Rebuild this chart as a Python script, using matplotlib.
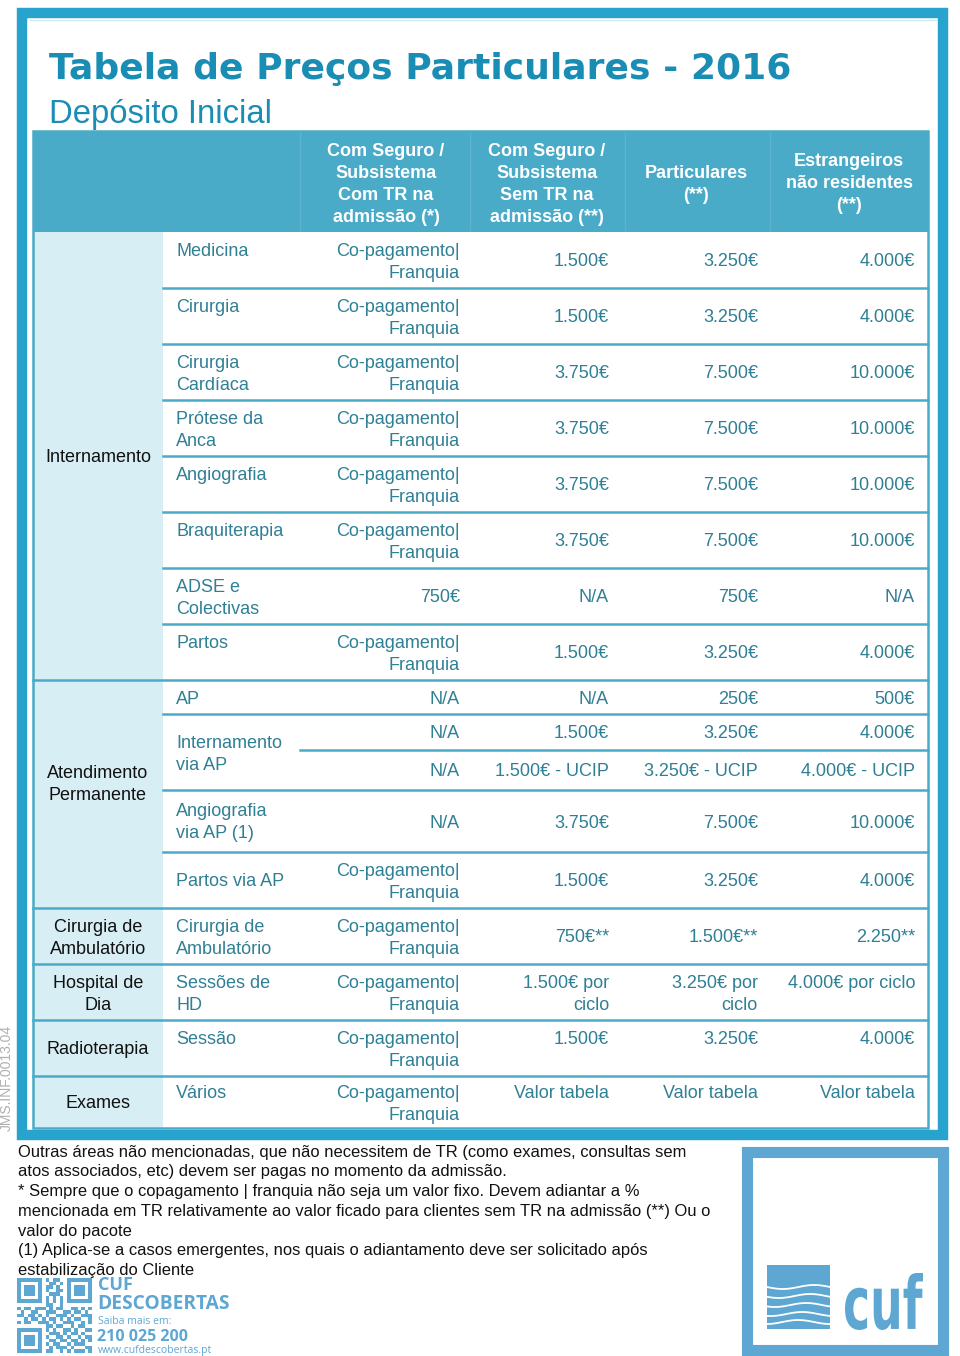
import numpy as np
import matplotlib
matplotlib.use("Agg")
import matplotlib.pyplot as plt
from matplotlib.patches import Rectangle, PathPatch
from matplotlib.textpath import TextPath
from matplotlib.font_manager import FontProperties
from matplotlib.transforms import Affine2D

# ---------------- data ----------------
title = "Tabela de Preços Particulares - 2016"
subtitle = "Depósito Inicial"

header_cols = [
    "Com Seguro /\nSubsistema\nCom TR na\nadmissão (*)",
    "Com Seguro /\nSubsistema\nSem TR na\nadmissão (**)",
    "Particulares\n(**)",
    "Estrangeiros\nnão residentes\n(**)",
]

groups = ["Internamento", "Atendimento\nPermanente", "Cirurgia de\nAmbulatório",
          "Hospital de\nDia", "Radioterapia", "Exames"]
group_sizes = [8, 4, 1, 1, 1, 1]

subcats = ["Medicina", "Cirurgia", "Cirurgia\nCardíaca", "Prótese da\nAnca", "Angiografia",
           "Braquiterapia", "ADSE e\nColectivas", "Partos", "AP", "Internamento\nvia AP",
           "Angiografia\nvia AP (1)", "Partos via AP", "Cirurgia de\nAmbulatório",
           "Sessões de\nHD", "Sessão", "Vários"]

CP = "Co-pagamento|\nFranquia"
col_com_tr = [CP, CP, CP, CP, CP, CP, "750€", CP, "N/A", ["N/A", "N/A"], "N/A",
              CP, CP, CP, CP, CP]
col_sem_tr = ["1.500€", "1.500€", "3.750€", "3.750€", "3.750€", "3.750€", "N/A", "1.500€",
              "N/A", ["1.500€", "1.500€ - UCIP"], "3.750€", "1.500€", "750€**",
              "1.500€ por\nciclo", "1.500€", "Valor tabela"]
col_particulares = ["3.250€", "3.250€", "7.500€", "7.500€", "7.500€", "7.500€", "750€",
                    "3.250€", "250€", ["3.250€", "3.250€ - UCIP"], "7.500€", "3.250€",
                    "1.500€**", "3.250€ por\nciclo", "3.250€", "Valor tabela"]
col_estrangeiros = ["4.000€", "4.000€", "10.000€", "10.000€", "10.000€", "10.000€", "N/A",
                    "4.000€", "500€", ["4.000€", "4.000€ - UCIP"], "10.000€", "4.000€",
                    "2.250**", "4.000€ por ciclo", "4.000€", "Valor tabela"]

footnotes = [
    "Outras áreas não mencionadas, que não necessitem de TR (como exames, consultas sem",
    "atos associados, etc) devem ser pagas no momento da admissão.",
    "* Sempre que o copagamento | franquia não seja um valor fixo. Devem adiantar a %",
    "mencionada em TR relativamente ao valor ficado para clientes sem TR na admissão (**) Ou o",
    "valor do pacote",
    "(1) Aplica-se a casos emergentes, nos quais o adiantamento deve ser solicitado após",
    "estabilização do Cliente",
]
doc_code = "JMS.INF.0013.04"

# ---------------- layout / style ----------------
FRAME = "#27a3cd"
HEAD = "#4aabc8"
LINE = "#4aabc8"
CATBG = "#d8eef5"
TEAL = "#2f7f95"
TITLE_C = "#1a8db4"
LOGO = "#5ea7d2"
FONT = "Liberation Sans"

row_edges = [232, 288, 344, 400, 456, 512, 568, 624, 680, 714, 790, 852, 908, 964,
             1020, 1076, 1128]
sub_top = [True] * 8 + [False] * 5 + [True] * 3
val_top = [False] * 13 + [True, True, True]
x_left, x_right = 33, 928
x_cat_end, x_sub_end = 163, 300
val_right = [460, 609, 758, 915]
head_cx = [386, 547, 696, 849]
LS = 22
DY = 2

fig = plt.figure(figsize=(9.6, 13.56), dpi=100)
ax = fig.add_axes([0, 0, 1, 1])
ax.set_xlim(0, 960)
ax.set_ylim(1356, 0)
ax.axis("off")


def put(x, yc, text, ha="left", top=False, color=TEAL, size=13, weight="normal",
        family=FONT):
    lines = text.split("\n")
    n = len(lines)
    if top and n == 1:
        y0 = yc - LS / 2
    else:
        y0 = yc - (n - 1) * LS / 2
    for i, ln in enumerate(lines):
        ax.text(x, y0 + i * LS + DY, ln, ha=ha, va="center", color=color, fontsize=size,
                fontweight=weight, family=family)


# outer frame
ax.add_patch(Rectangle((22, 13), 921, 1122, fill=False, ec=FRAME, lw=7.5))
ax.plot([30, 936], [20, 20], color="#cfe9f3", lw=1)

# title
ax.text(49, 69, title, ha="left", va="center", color=TITLE_C, fontsize=26,
        fontweight="bold", family="DejaVu Sans")
ax.text(49, 114, subtitle, ha="left", va="center", color=TITLE_C, fontsize=23.7,
        family=FONT)

# header band
ax.add_patch(Rectangle((x_left, 131), x_right - x_left, 101, color=HEAD, lw=0))
for xs in [300, 470, 625, 770]:
    ax.plot([xs, xs], [133, 230], color="#5db4cf", lw=1)
for cx, h in zip(head_cx, header_cols):
    put(cx, 182, h, ha="center", color="white", size=13, weight="bold")

# category background
ax.add_patch(Rectangle((x_left, row_edges[0]), x_cat_end - x_left,
                       row_edges[-1] - row_edges[0], color=CATBG, lw=0))

# horizontal lines
group_starts = np.cumsum([0] + group_sizes)
for i, y in enumerate(row_edges[1:-1], start=1):
    xs = x_left if i in group_starts else x_cat_end
    ax.plot([xs, x_right], [y, y], color=LINE, lw=1.8)
# split line in Internamento via AP
y_split = 750
ax.plot([x_sub_end, x_right], [y_split, y_split], color=LINE, lw=1.8)

# table border
ax.add_patch(Rectangle((x_left, 131), x_right - x_left, row_edges[-1] - 131,
                       fill=False, ec=LINE, lw=1.8))

# group labels
for g, (name, s0) in enumerate(zip(groups, group_starts[:-1])):
    y0, y1 = row_edges[s0], row_edges[s0 + group_sizes[g]]
    yc = (y0 + y1) / 2
    if name.startswith("Atendimento"):
        yc -= 12
    put(98, yc, name, ha="center", color="#111111")

# rows
cols = [col_com_tr, col_sem_tr, col_particulares, col_estrangeiros]
for r, sc in enumerate(subcats):
    y0, y1 = row_edges[r], row_edges[r + 1]
    yc = (y0 + y1) / 2
    put(176, yc, sc, ha="left", top=sub_top[r])
    for c, col in enumerate(cols):
        v = col[r]
        if isinstance(v, list):
            put(val_right[c], (y0 + y_split) / 2, v[0], ha="right")
            put(val_right[c], (y_split + y1) / 2, v[1], ha="right")
        else:
            top = val_top[r] if c > 0 else sub_top[r] and r >= 13
            put(val_right[c], yc, v, ha="right", top=top)

# vertical doc code
ax.text(7, 1078, doc_code, rotation=90, ha="center", va="center", color="#b0b0b0",
        fontsize=10, family=FONT)

# footnotes
for i, ln in enumerate(footnotes):
    ax.text(18, 1152 + i * 19.8, ln, ha="left", va="center", color="#111111",
            fontsize=11.9, family=FONT)

# QR-like pattern
qr = [
    "111111101011001111111",
    "100000100110101000001",
    "101110101101001011101",
    "101110101001101011101",
    "101110100111001011101",
    "100000101010101000001",
    "111111101010101111111",
    "000000001100100000000",
    "101101110101100110101",
    "010011001110011011010",
    "110110101001110100111",
    "001011010110101011001",
    "101100111010011100101",
    "000000001101100101100",
    "111111101010011010011",
    "100000100111010110100",
    "101110101001101001011",
    "101110100110110110101",
    "101110101011001011100",
    "100000100101110100011",
    "111111101100101011101",
]
m = 75 / 21
for i, row in enumerate(qr):
    for j, ch in enumerate(row):
        if ch == "1":
            ax.add_patch(Rectangle((17 + j * m, 1278 + i * m), m, m, color=LOGO, lw=0))

ax.text(98, 1285, "CUF", ha="left", va="center", color=LOGO, fontsize=13,
        fontweight="bold", family="Open Sans")
ax.text(97, 1304, "DESCOBERTAS", ha="left", va="center", color=LOGO, fontsize=13.8,
        fontweight="bold", family="Open Sans")
ax.text(98, 1322, "Saiba mais em:", ha="left", va="center", color=LOGO, fontsize=7.5,
        family="Open Sans")
ax.text(97, 1337, "210 025 200", ha="left", va="center", color=LOGO, fontsize=11.5,
        fontweight="bold", family="Open Sans")
ax.text(98, 1350, "www.cufdescobertas.pt", ha="left", va="center", color=LOGO,
        fontsize=7.5, family="Open Sans")

# CUF logo box
ax.add_patch(Rectangle((747, 1152), 196, 198, fill=False, ec=LOGO, lw=8))
ax.add_patch(Rectangle((767, 1265), 63, 64, color=LOGO, lw=0))
xw = np.linspace(767, 830, 60)
for k, yb in enumerate([1287, 1296, 1305, 1314, 1322]):
    ax.plot(xw, yb + 2.0 * np.sin((xw - 767) / 63 * 2 * np.pi + 0.4 * k), color="white",
            lw=1.3)
tp = TextPath((0, 0), "cuf", size=100, prop=FontProperties(family="DejaVu Sans",
                                                           weight="bold"))
bb = tp.get_extents()
tx0, tx1, ty0, ty1 = 845, 923, 1273, 1330
sx = (tx1 - tx0) / bb.width
sy = (ty1 - ty0) / bb.height
tr = Affine2D().translate(-bb.x0, -bb.y0).scale(sx, -sy).translate(tx0, ty1) + ax.transData
ax.add_patch(PathPatch(tp, color=LOGO, lw=0, transform=tr))

fig.savefig("out.png", dpi=100)
